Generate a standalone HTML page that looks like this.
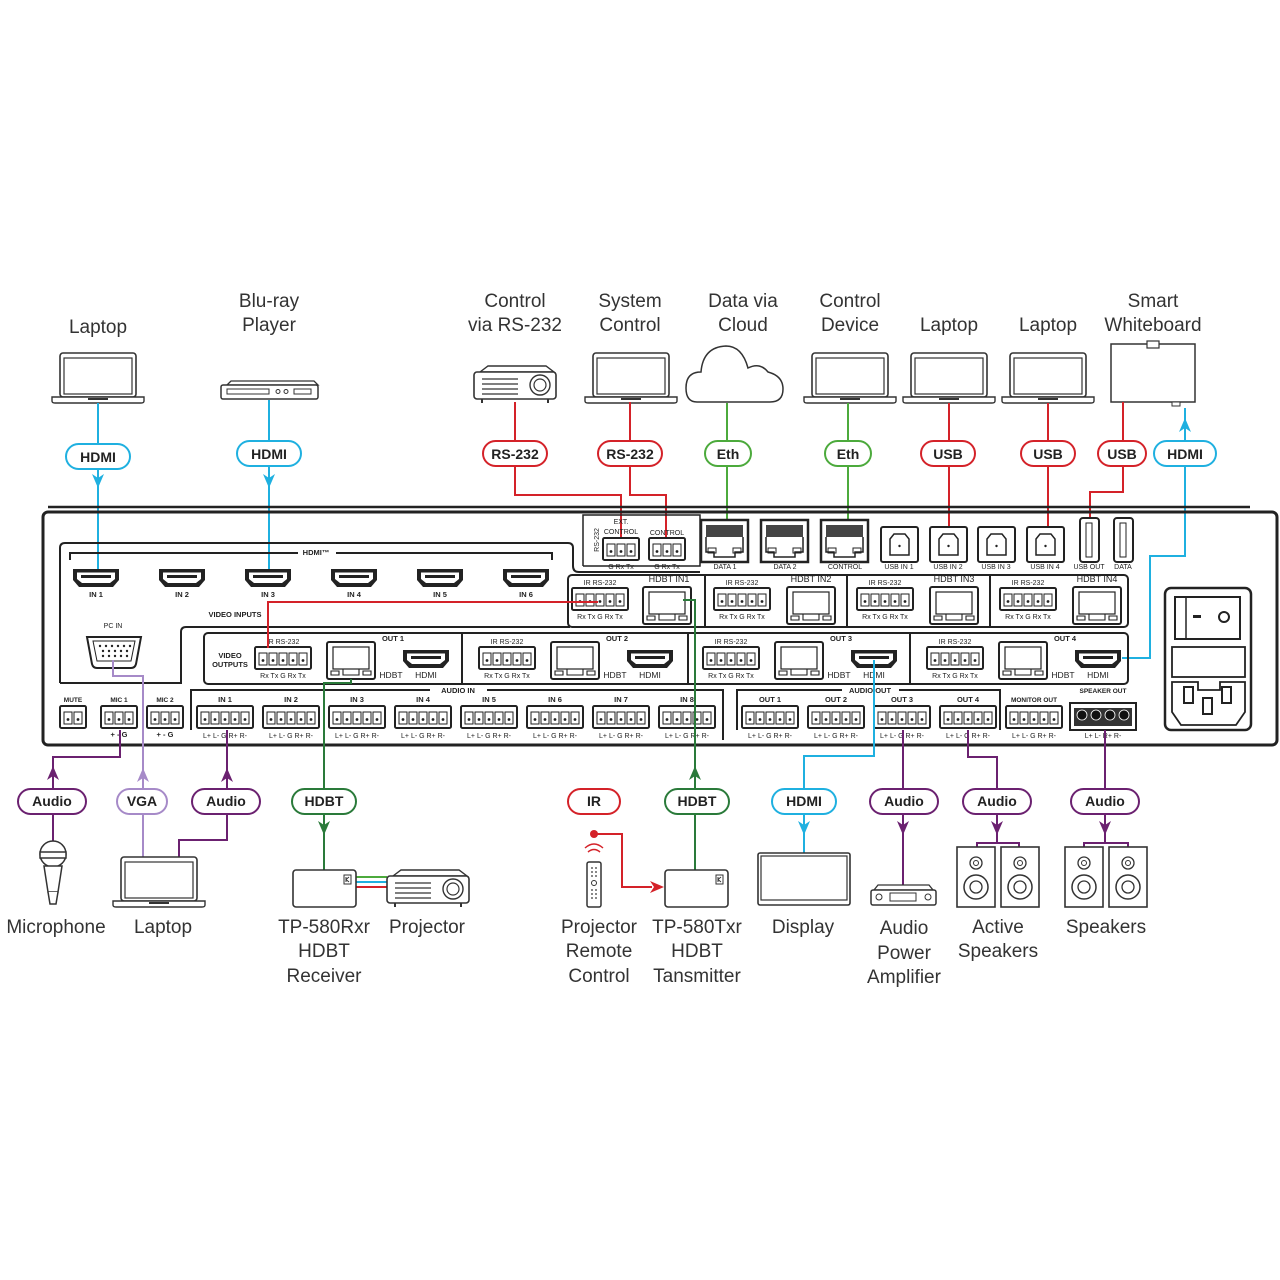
<!DOCTYPE html>
<html><head><meta charset="utf-8"><style>
html,body{margin:0;padding:0;background:#fff;}
svg{display:block;}
.lbl{font-family:"Liberation Sans",sans-serif;font-size:19px;fill:#333;text-anchor:middle;}
.pt{font-family:"Liberation Sans",sans-serif;font-size:14px;font-weight:bold;fill:#222;text-anchor:middle;}
.s{font-family:"Liberation Sans",sans-serif;font-size:7px;fill:#222;text-anchor:middle;}
.b{font-family:"Liberation Sans",sans-serif;font-size:7.5px;font-weight:bold;fill:#222;text-anchor:middle;}
.ln{fill:none;stroke-width:2;}
</style></head><body>
<svg width="1280" height="1280" viewBox="0 0 1280 1280" xmlns="http://www.w3.org/2000/svg">
<defs>
<g id="pin"><rect x="0" y="0" width="8" height="12" fill="#fff" stroke="#222" stroke-width="1"/><circle cx="4" cy="7.5" r="1.4" fill="#222"/></g>
<g id="t5"><rect x="0" y="0" width="56" height="22" rx="1.5" fill="#fff" stroke="#222" stroke-width="2"/><use href="#pin" x="4" y="6"/><use href="#pin" x="14" y="6"/><use href="#pin" x="24" y="6"/><use href="#pin" x="34" y="6"/><use href="#pin" x="44" y="6"/></g>
<g id="t3"><rect x="0" y="0" width="36" height="22" rx="1.5" fill="#fff" stroke="#222" stroke-width="2"/><use href="#pin" x="4" y="6"/><use href="#pin" x="14" y="6"/><use href="#pin" x="24" y="6"/></g>
<g id="t2"><rect x="0" y="0" width="26" height="22" rx="1.5" fill="#fff" stroke="#222" stroke-width="2"/><use href="#pin" x="4" y="6"/><use href="#pin" x="14" y="6"/></g>
<g id="hdmi"><path d="M0,0 H46 V11 L40,18 H6 L0,11Z" fill="#222"/><path d="M4,3.5 H42 V10 L37,14 H9 L4,10Z" fill="#fff"/><path d="M8,6 H38 V9 H8Z" fill="#222"/></g>
<g id="jack"><rect x="0" y="0" width="48" height="37" rx="2" fill="#fff" stroke="#222" stroke-width="2"/><rect x="6" y="5" width="36" height="22" fill="none" stroke="#222" stroke-width="1.2"/><path d="M4,29 H12 V33 H4Z M36,29 H44 V33 H36Z M16,27 H32 V33 H16Z" fill="none" stroke="#222" stroke-width="1.1"/></g>
<g id="eth"><rect x="0" y="0" width="47" height="42" fill="#fff" stroke="#222" stroke-width="2.5"/><rect x="5" y="5" width="37" height="12" fill="#444"/><path d="M5,17 V32 H13 V37 H34 V32 H42 V17" fill="none" stroke="#222" stroke-width="1.5"/><rect x="7" y="28" width="8" height="5" fill="none" stroke="#222"/><rect x="32" y="28" width="8" height="5" fill="none" stroke="#222"/></g>
<g id="usbb"><rect x="0" y="0" width="37" height="35" rx="2" fill="#fff" stroke="#222" stroke-width="2"/><path d="M9,12 L13,7 H24 L28,12 V28 H9Z" fill="none" stroke="#222" stroke-width="1.5"/><circle cx="18.5" cy="19" r="1.2" fill="#222"/></g>
<g id="laptop"><rect x="8" y="0" width="76" height="44" rx="3" fill="#fff" stroke="#333" stroke-width="1.6"/><rect x="12" y="5" width="68" height="36" fill="none" stroke="#333" stroke-width="1.2"/><path d="M0,44 H92 V48 Q92,50 89,50 H3 Q0,50 0,48Z" fill="#fff" stroke="#333" stroke-width="1.4"/><rect x="36" y="45" width="20" height="2" fill="#333"/></g>
<g id="proj"><path d="M6,6 L14,0 H72 L80,6 Z" fill="#fff" stroke="#333" stroke-width="1.4"/><rect x="0" y="6" width="82" height="27" rx="3" fill="#fff" stroke="#333" stroke-width="1.6"/><path d="M8,13 H44 M8,18 H44 M8,23 H44 M8,28 H44" stroke="#333" stroke-width="1.3"/><circle cx="66" cy="19" r="10" fill="none" stroke="#333" stroke-width="1.4"/><circle cx="66" cy="19" r="6" fill="none" stroke="#333" stroke-width="1.2"/><path d="M8,33 V37 M74,33 V37" stroke="#333" stroke-width="2"/></g>
<g id="spk"><rect x="0" y="0" width="38" height="60" fill="#fff" stroke="#333" stroke-width="1.6"/><circle cx="19" cy="16" r="6" fill="none" stroke="#333" stroke-width="1.3"/><circle cx="19" cy="16" r="2.5" fill="none" stroke="#333"/><circle cx="19" cy="40" r="12" fill="none" stroke="#333" stroke-width="1.5"/><circle cx="19" cy="40" r="6" fill="none" stroke="#333" stroke-width="1.3"/></g>
<g id="box"><rect x="0" y="0" width="63" height="37" rx="3" fill="#fff" stroke="#333" stroke-width="1.6"/><rect x="51" y="5" width="7" height="9" fill="#fff" stroke="#333"/><path d="M53,7 V12 M53,9.5 L56,7 M53,9.5 L56,12" stroke="#333" stroke-width="1"/></g>
</defs>

<!-- TOP LABELS -->
<text class="lbl" x="98" y="333">Laptop</text>
<text class="lbl" x="269" y="307">Blu-ray</text><text class="lbl" x="269" y="331">Player</text>
<text class="lbl" x="515" y="307">Control</text><text class="lbl" x="515" y="331">via RS-232</text>
<text class="lbl" x="630" y="307">System</text><text class="lbl" x="630" y="331">Control</text>
<text class="lbl" x="743" y="307">Data via</text><text class="lbl" x="743" y="331">Cloud</text>
<text class="lbl" x="850" y="307">Control</text><text class="lbl" x="850" y="331">Device</text>
<text class="lbl" x="949" y="331">Laptop</text>
<text class="lbl" x="1048" y="331">Laptop</text>
<text class="lbl" x="1153" y="307">Smart</text><text class="lbl" x="1153" y="331">Whiteboard</text>

<!-- TOP ICONS -->
<use href="#laptop" x="52" y="353"/>
<g><path d="M227,385 L231,381 H314 L318,385Z" fill="#fff" stroke="#333" stroke-width="1.3"/><rect x="221" y="385" width="97" height="14" rx="2" fill="#fff" stroke="#333" stroke-width="1.5"/><rect x="227" y="389" width="42" height="5" fill="none" stroke="#333"/><circle cx="278" cy="391.5" r="2" fill="none" stroke="#333"/><circle cx="286" cy="391.5" r="2" fill="none" stroke="#333"/><rect x="294" y="389" width="17" height="5" fill="none" stroke="#333"/></g>
<use href="#proj" x="474" y="366"/>
<use href="#laptop" x="585" y="353"/>
<path d="M697,402 Q686,402 686,388 Q686,372 701,372 Q703,347 726,346 Q742,346 748,368 Q760,362 768,372 Q783,376 783,389 Q783,402 770,402 Z" fill="#fff" stroke="#333" stroke-width="1.5"/>
<use href="#laptop" x="804" y="353"/>
<use href="#laptop" x="903" y="353"/>
<use href="#laptop" x="1002" y="353"/>
<rect x="1111" y="344" width="84" height="58" fill="#fff" stroke="#333" stroke-width="1.5"/><rect x="1147" y="341" width="12" height="7" fill="#fff" stroke="#333" stroke-width="1.2"/><rect x="1172" y="402" width="8" height="4" fill="#fff" stroke="#333"/>

<!-- TOP CONNECTORS -->
<path class="ln" stroke="#1fb0e0" d="M98,403 V570"/>
<path class="ln" stroke="#1fb0e0" d="M269,400 V570"/>
<path class="ln" stroke="#d42229" d="M515,402 V495 H621 V540"/>
<path class="ln" stroke="#d42229" d="M630,402 V495 H666 V540"/>
<path class="ln" stroke="#4caa3c" d="M727,403 V525"/>
<path class="ln" stroke="#4caa3c" d="M848,403 V525"/>
<path class="ln" stroke="#d42229" d="M949,403 V530"/>
<path class="ln" stroke="#d42229" d="M1048,403 V530"/>
<path class="ln" stroke="#d42229" d="M1123,402 V492 H1090 V518"/>
<path class="ln" stroke="#1fb0e0" d="M1122,658 H1150 V556 H1185 V408"/>
<polygon points="92,474 98,488 104,474 98,478" fill="#1fb0e0"/>
<polygon points="263,474 269,488 275,474 269,478" fill="#1fb0e0"/>
<polygon points="1179,432 1185,418 1191,432 1185,428" fill="#1fb0e0"/>

<!-- TOP PILLS -->
<g stroke-width="2" fill="#fff">
<rect x="66" y="444" width="64" height="25" rx="12.5" stroke="#1fb0e0"/>
<rect x="237" y="441" width="64" height="25" rx="12.5" stroke="#1fb0e0"/>
<rect x="483" y="441" width="64" height="25" rx="12.5" stroke="#d42229"/>
<rect x="598" y="441" width="64" height="25" rx="12.5" stroke="#d42229"/>
<rect x="705" y="441" width="46" height="25" rx="12.5" stroke="#4caa3c"/>
<rect x="825" y="441" width="46" height="25" rx="12.5" stroke="#4caa3c"/>
<rect x="921" y="441" width="54" height="25" rx="12.5" stroke="#d42229"/>
<rect x="1021" y="441" width="54" height="25" rx="12.5" stroke="#d42229"/>
<rect x="1098" y="441" width="48" height="25" rx="12.5" stroke="#d42229"/>
<rect x="1154" y="441" width="62" height="25" rx="12.5" stroke="#1fb0e0"/>
</g>
<text class="pt" x="98" y="462">HDMI</text>
<text class="pt" x="269" y="459">HDMI</text>
<text class="pt" x="515" y="459">RS-232</text>
<text class="pt" x="630" y="459">RS-232</text>
<text class="pt" x="728" y="459">Eth</text>
<text class="pt" x="848" y="459">Eth</text>
<text class="pt" x="948" y="459">USB</text>
<text class="pt" x="1048" y="459">USB</text>
<text class="pt" x="1122" y="459">USB</text>
<text class="pt" x="1185" y="459">HDMI</text>

<!-- PANEL -->
<path d="M48,507 H1250" stroke="#222" stroke-width="2.5"/>
<rect x="43" y="512" width="1234" height="233" rx="5" fill="none" stroke="#222" stroke-width="3"/>
<!-- RS232 box -->
<path d="M583,566 V515 H700 V566 H583" fill="none" stroke="#222" stroke-width="1.5"/>
<text class="s" transform="translate(599,540) rotate(-90)">RS-232</text>
<text class="s" x="621" y="524">EXT.</text><text class="s" x="621" y="534">CONTROL</text>
<text class="s" x="667" y="535">CONTROL</text>
<use href="#t3" x="603" y="538"/><use href="#t3" x="649" y="538"/>
<text class="s" x="621" y="569">G Rx Tx</text><text class="s" x="667" y="569">G Rx Tx</text>
<!-- data ports -->
<use href="#eth" x="701" y="520"/><use href="#eth" x="761" y="520"/><use href="#eth" x="821" y="520"/>
<text class="s" x="725" y="569">DATA 1</text><text class="s" x="785" y="569">DATA 2</text><text class="s" x="845" y="569">CONTROL</text>
<use href="#usbb" x="881" y="527"/><use href="#usbb" x="930" y="527"/><use href="#usbb" x="978" y="527"/><use href="#usbb" x="1027" y="527"/>
<text class="s" x="899" y="569">USB IN 1</text><text class="s" x="948" y="569">USB IN 2</text><text class="s" x="996" y="569">USB IN 3</text><text class="s" x="1045" y="569">USB IN 4</text>
<rect x="1080" y="518" width="19" height="44" rx="3" fill="#fff" stroke="#222" stroke-width="2"/><rect x="1086" y="523" width="6" height="34" fill="none" stroke="#222"/>
<rect x="1114" y="518" width="19" height="44" rx="3" fill="#fff" stroke="#222" stroke-width="2"/><rect x="1120" y="523" width="6" height="34" fill="none" stroke="#222"/>
<text class="s" x="1089" y="569">USB OUT</text><text class="s" x="1123" y="569">DATA</text>

<!-- video inputs bracket -->
<path d="M60,683 V548 Q60,543 65,543 H568 Q573,543 573,548 V566 Q573,572 579,572 H700" fill="none" stroke="#222" stroke-width="2"/>
<path d="M60,683 H181 V632 Q181,627 186,627 H570" fill="none" stroke="#222" stroke-width="2"/>
<!-- hdmi group -->
<path d="M70,560 V553 H298 M336,553 H552 V560" fill="none" stroke="#222" stroke-width="2"/>
<text class="b" x="316" y="555">HDMI™</text>
<use href="#hdmi" x="73" y="569"/><use href="#hdmi" x="159" y="569"/><use href="#hdmi" x="245" y="569"/><use href="#hdmi" x="331" y="569"/><use href="#hdmi" x="417" y="569"/><use href="#hdmi" x="503" y="569"/>
<text class="b" x="96" y="597">IN 1</text><text class="b" x="182" y="597">IN 2</text><text class="b" x="268" y="597">IN 3</text><text class="b" x="354" y="597">IN 4</text><text class="b" x="440" y="597">IN 5</text><text class="b" x="526" y="597">IN 6</text>
<text class="b" x="235" y="617">VIDEO INPUTS</text>
<!-- PC IN -->
<text class="s" x="113" y="628">PC IN</text>
<path d="M87,637 H141 L136,664 Q135,668 131,668 H97 Q93,668 92,664Z" fill="#fff" stroke="#222" stroke-width="2"/>
<path d="M93,641 H135 L131,661 H97Z" fill="none" stroke="#222" stroke-width="1"/>
<g fill="#222"><circle cx="100" cy="646" r="1.2"/><circle cx="106" cy="646" r="1.2"/><circle cx="112" cy="646" r="1.2"/><circle cx="118" cy="646" r="1.2"/><circle cx="124" cy="646" r="1.2"/><circle cx="130" cy="646" r="1.2"/><circle cx="103" cy="651" r="1.2"/><circle cx="109" cy="651" r="1.2"/><circle cx="115" cy="651" r="1.2"/><circle cx="121" cy="651" r="1.2"/><circle cx="127" cy="651" r="1.2"/><circle cx="103" cy="656" r="1.2"/><circle cx="109" cy="656" r="1.2"/><circle cx="115" cy="656" r="1.2"/><circle cx="121" cy="656" r="1.2"/><circle cx="127" cy="656" r="1.2"/></g>

<!-- HDBT in row -->
<rect x="568" y="575" width="560" height="52" rx="4" fill="none" stroke="#222" stroke-width="2"/>
<path d="M705,575 V627 M847,575 V627 M990,575 V627" stroke="#222" stroke-width="2"/>
<g>
<text class="s" x="600" y="585">IR RS-232</text><use href="#t5" x="572" y="588"/><text class="s" x="600" y="619">Rx Tx G Rx Tx</text>
<text class="s" x="669" y="582" style="font-size:9px">HDBT IN1</text><use href="#jack" x="643" y="587"/>
<text class="s" x="742" y="585">IR RS-232</text><use href="#t5" x="714" y="588"/><text class="s" x="742" y="619">Rx Tx G Rx Tx</text>
<text class="s" x="811" y="582" style="font-size:9px">HDBT IN2</text><use href="#jack" x="787" y="587"/>
<text class="s" x="885" y="585">IR RS-232</text><use href="#t5" x="857" y="588"/><text class="s" x="885" y="619">Rx Tx G Rx Tx</text>
<text class="s" x="954" y="582" style="font-size:9px">HDBT IN3</text><use href="#jack" x="930" y="587"/>
<text class="s" x="1028" y="585">IR RS-232</text><use href="#t5" x="1000" y="588"/><text class="s" x="1028" y="619">Rx Tx G Rx Tx</text>
<text class="s" x="1097" y="582" style="font-size:9px">HDBT IN4</text><use href="#jack" x="1073" y="587"/>
</g>

<!-- video outputs row -->
<rect x="204" y="633" width="924" height="51" rx="4" fill="none" stroke="#222" stroke-width="2"/>
<path d="M462,633 V684 M688,633 V684 M910,633 V684" stroke="#222" stroke-width="2"/>
<text class="b" x="230" y="658">VIDEO</text><text class="b" x="230" y="667">OUTPUTS</text>
<g id="outsec">
<text class="s" x="283" y="644">IR RS-232</text><use href="#t5" x="255" y="647"/><text class="s" x="283" y="678">Rx Tx G Rx Tx</text>
<use href="#jack" x="327" y="642"/>
<use href="#hdmi" x="403" y="650"/>
<text class="b" x="393" y="641">OUT 1</text>
<text class="s" x="391" y="678" style="font-size:8.5px">HDBT</text><text class="s" x="426" y="678" style="font-size:8.5px">HDMI</text>
</g>
<g transform="translate(224,0)">
<text class="s" x="283" y="644">IR RS-232</text><use href="#t5" x="255" y="647"/><text class="s" x="283" y="678">Rx Tx G Rx Tx</text>
<use href="#jack" x="327" y="642"/><use href="#hdmi" x="403" y="650"/>
<text class="b" x="393" y="641">OUT 2</text>
<text class="s" x="391" y="678" style="font-size:8.5px">HDBT</text><text class="s" x="426" y="678" style="font-size:8.5px">HDMI</text>
</g>
<g transform="translate(448,0)">
<text class="s" x="283" y="644">IR RS-232</text><use href="#t5" x="255" y="647"/><text class="s" x="283" y="678">Rx Tx G Rx Tx</text>
<use href="#jack" x="327" y="642"/><use href="#hdmi" x="403" y="650"/>
<text class="b" x="393" y="641">OUT 3</text>
<text class="s" x="391" y="678" style="font-size:8.5px">HDBT</text><text class="s" x="426" y="678" style="font-size:8.5px">HDMI</text>
</g>
<g transform="translate(672,0)">
<text class="s" x="283" y="644">IR RS-232</text><use href="#t5" x="255" y="647"/><text class="s" x="283" y="678">Rx Tx G Rx Tx</text>
<use href="#jack" x="327" y="642"/><use href="#hdmi" x="403" y="650"/>
<text class="b" x="393" y="641">OUT 4</text>
<text class="s" x="391" y="678" style="font-size:8.5px">HDBT</text><text class="s" x="426" y="678" style="font-size:8.5px">HDMI</text>
</g>

<!-- audio row -->
<text class="b" x="73" y="702" style="font-size:6.5px">MUTE</text><use href="#t2" x="60" y="706"/>
<text class="b" x="119" y="702" style="font-size:6.5px">MIC 1</text><use href="#t3" x="101" y="706"/><text class="b" x="119" y="737">+ - G</text>
<text class="b" x="165" y="702" style="font-size:6.5px">MIC 2</text><use href="#t3" x="147" y="706"/><text class="b" x="165" y="737">+ - G</text>
<path d="M191,730 V690 H430 M487,690 H723 V740" fill="none" stroke="#222" stroke-width="2"/>
<text class="b" x="458" y="693">AUDIO IN</text>
<g>
<use href="#t5" x="197" y="706"/><use href="#t5" x="263" y="706"/><use href="#t5" x="329" y="706"/><use href="#t5" x="395" y="706"/><use href="#t5" x="461" y="706"/><use href="#t5" x="527" y="706"/><use href="#t5" x="593" y="706"/><use href="#t5" x="659" y="706"/>
<text class="b" x="225" y="702">IN 1</text><text class="b" x="291" y="702">IN 2</text><text class="b" x="357" y="702">IN 3</text><text class="b" x="423" y="702">IN 4</text><text class="b" x="489" y="702">IN 5</text><text class="b" x="555" y="702">IN 6</text><text class="b" x="621" y="702">IN 7</text><text class="b" x="687" y="702">IN 8</text>
<text class="s" x="225" y="738">L+ L- G R+ R-</text><text class="s" x="291" y="738">L+ L- G R+ R-</text><text class="s" x="357" y="738">L+ L- G R+ R-</text><text class="s" x="423" y="738">L+ L- G R+ R-</text><text class="s" x="489" y="738">L+ L- G R+ R-</text><text class="s" x="555" y="738">L+ L- G R+ R-</text><text class="s" x="621" y="738">L+ L- G R+ R-</text><text class="s" x="687" y="738">L+ L- G R+ R-</text>
</g>
<path d="M737,730 V690 H842 M899,690 H1000 V730" fill="none" stroke="#222" stroke-width="2"/>
<text class="b" x="870" y="693">AUDIO OUT</text>
<use href="#t5" x="742" y="706"/><use href="#t5" x="808" y="706"/><use href="#t5" x="874" y="706"/><use href="#t5" x="940" y="706"/><use href="#t5" x="1006" y="706"/>
<text class="b" x="770" y="702">OUT 1</text><text class="b" x="836" y="702">OUT 2</text><text class="b" x="902" y="702">OUT 3</text><text class="b" x="968" y="702">OUT 4</text><text class="b" x="1034" y="702" style="font-size:6.5px">MONITOR OUT</text>
<text class="s" x="770" y="738">L+ L- G R+ R-</text><text class="s" x="836" y="738">L+ L- G R+ R-</text><text class="s" x="902" y="738">L+ L- G R+ R-</text><text class="s" x="968" y="738">L+ L- G R+ R-</text><text class="s" x="1034" y="738">L+ L- G R+ R-</text>
<text class="b" x="1103" y="693" style="font-size:6.5px">SPEAKER OUT</text>
<rect x="1070" y="703" width="66" height="27" fill="#fff" stroke="#222" stroke-width="2"/>
<rect x="1074" y="708" width="58" height="18" fill="#333"/>
<g fill="#111" stroke="#fff" stroke-width="0.8"><circle cx="1082" cy="715" r="5"/><circle cx="1096" cy="715" r="5"/><circle cx="1110" cy="715" r="5"/><circle cx="1124" cy="715" r="5"/></g>
<text class="s" x="1103" y="738">L+  L-  R+  R-</text>
<!-- power -->
<rect x="1165" y="588" width="86" height="142" rx="6" fill="#fff" stroke="#222" stroke-width="2.5"/>
<rect x="1175" y="597" width="65" height="42" fill="#fff" stroke="#222" stroke-width="2"/>
<path d="M1186,597 V639" stroke="#222" stroke-width="1.5"/>
<rect x="1193" y="615" width="8" height="3" fill="#222"/><circle cx="1224" cy="617" r="5" fill="#fff" stroke="#222" stroke-width="2"/>
<rect x="1172" y="647" width="73" height="30" fill="#fff" stroke="#222" stroke-width="1.8"/>
<path d="M1172,682 H1198 V690 H1220 V682 H1245 V712 L1236,725 H1181 L1172,712Z" fill="#fff" stroke="#222" stroke-width="1.8"/>
<rect x="1184" y="687" width="9" height="16" fill="none" stroke="#222" stroke-width="2"/><rect x="1222" y="687" width="9" height="16" fill="none" stroke="#222" stroke-width="2"/><rect x="1203" y="698" width="9" height="16" fill="none" stroke="#222" stroke-width="2"/>

<!-- INTERNAL / BOTTOM CONNECTORS -->
<path class="ln" stroke="#d42229" d="M598,602 H268 V648"/>
<path class="ln" stroke="#2a7a3a" d="M683,600 H695 V870"/>
<polygon points="689,780 695,766 701,780 695,776" fill="#2a7a3a"/>
<path class="ln" stroke="#2a7a3a" d="M351,679 V683 H324 V870"/>
<polygon points="318,821 324,835 330,821 324,825" fill="#2a7a3a"/>
<path class="ln" stroke="#1fb0e0" d="M874,660 V756 H804 V853"/>
<polygon points="798,821 804,835 810,821 804,825" fill="#1fb0e0"/>
<path class="ln" stroke="#6b2170" d="M120,730 V757 H53 V842"/>
<polygon points="47,780 53,766 59,780 53,776" fill="#6b2170"/>
<path class="ln" stroke="#a68ac8" d="M113,660 V676 H143 V857"/>
<polygon points="137,782 143,768 149,782 143,778" fill="#a68ac8"/>
<path class="ln" stroke="#6b2170" d="M227,730 V840 H179 V857"/>
<polygon points="221,782 227,768 233,782 227,778" fill="#6b2170"/>
<path class="ln" stroke="#6b2170" d="M903,730 V888"/>
<polygon points="897,821 903,835 909,821 903,825" fill="#6b2170"/>
<path class="ln" stroke="#6b2170" d="M968,730 V757 H997 V843 M977,847 V843 H1019 V847"/>
<polygon points="991,821 997,835 1003,821 997,825" fill="#6b2170"/>
<path class="ln" stroke="#6b2170" d="M1105,730 V843 M1084,847 V843 H1128 V847"/>
<polygon points="1099,821 1105,835 1111,821 1105,825" fill="#6b2170"/>
<circle cx="594" cy="834" r="4" fill="#d42229"/>
<path class="ln" stroke="#d42229" d="M594,834 H622 V887 H652"/>
<polygon points="650,881 664,887 650,893 654,887" fill="#d42229"/>
<path d="M356,877 H387" stroke="#4caa3c" stroke-width="2"/><path d="M356,882 H387" stroke="#1fb0e0" stroke-width="2"/><path d="M356,887 H387" stroke="#d42229" stroke-width="2"/>

<!-- BOTTOM PILLS -->
<g stroke-width="2" fill="#fff">
<rect x="18" y="789" width="68" height="25" rx="12.5" stroke="#6b2170"/>
<rect x="117" y="789" width="50" height="25" rx="12.5" stroke="#a68ac8"/>
<rect x="192" y="789" width="68" height="25" rx="12.5" stroke="#6b2170"/>
<rect x="292" y="789" width="64" height="25" rx="12.5" stroke="#2a7a3a"/>
<rect x="568" y="789" width="52" height="25" rx="12.5" stroke="#d42229"/>
<rect x="665" y="789" width="64" height="25" rx="12.5" stroke="#2a7a3a"/>
<rect x="772" y="789" width="64" height="25" rx="12.5" stroke="#1fb0e0"/>
<rect x="870" y="789" width="68" height="25" rx="12.5" stroke="#6b2170"/>
<rect x="963" y="789" width="68" height="25" rx="12.5" stroke="#6b2170"/>
<rect x="1071" y="789" width="68" height="25" rx="12.5" stroke="#6b2170"/>
</g>
<text class="pt" x="52" y="806">Audio</text>
<text class="pt" x="142" y="806">VGA</text>
<text class="pt" x="226" y="806">Audio</text>
<text class="pt" x="324" y="806">HDBT</text>
<text class="pt" x="594" y="806">IR</text>
<text class="pt" x="697" y="806">HDBT</text>
<text class="pt" x="804" y="806">HDMI</text>
<text class="pt" x="904" y="806">Audio</text>
<text class="pt" x="997" y="806">Audio</text>
<text class="pt" x="1105" y="806">Audio</text>

<!-- BOTTOM ICONS -->
<g stroke="#333" stroke-width="1.5" fill="#fff">
<ellipse cx="53" cy="854" rx="13" ry="13"/><path d="M40,852 H66 V858 H40Z"/>
<path d="M44,866 L48,892 H58 L62,866Z"/><path d="M48,892 L50,904 H56 L58,892"/>
</g>
<use href="#laptop" x="113" y="857"/>
<use href="#box" x="293" y="870"/>
<use href="#proj" x="387" y="870"/>
<g stroke="#d42229" stroke-width="1.5" fill="none"><path d="M588,852 Q594,847 600,852"/><path d="M585,848 Q594,840 603,848"/></g>
<rect x="587" y="862" width="14" height="45" rx="2" fill="#fff" stroke="#333" stroke-width="1.5"/>
<g fill="#333"><circle cx="592" cy="868" r="0.9"/><circle cx="596" cy="868" r="0.9"/><circle cx="592" cy="872" r="0.9"/><circle cx="596" cy="872" r="0.9"/><circle cx="592" cy="876" r="0.9"/><circle cx="596" cy="876" r="0.9"/><circle cx="592" cy="890" r="0.9"/><circle cx="596" cy="890" r="0.9"/><circle cx="592" cy="894" r="0.9"/><circle cx="596" cy="894" r="0.9"/><circle cx="592" cy="898" r="0.9"/><circle cx="596" cy="898" r="0.9"/></g>
<circle cx="594" cy="883" r="2.5" fill="none" stroke="#333"/>
<use href="#box" x="665" y="870"/>
<rect x="758" y="853" width="92" height="52" rx="2" fill="#fff" stroke="#333" stroke-width="1.6"/><rect x="761" y="856" width="86" height="44" fill="none" stroke="#333" stroke-width="1.2"/>
<path d="M874,890 L878,885 H929 L933,890Z" fill="#fff" stroke="#333" stroke-width="1.3"/>
<rect x="871" y="890" width="65" height="15" rx="2" fill="#fff" stroke="#333" stroke-width="1.5"/>
<circle cx="879" cy="897" r="3" fill="none" stroke="#333"/><circle cx="928" cy="897" r="3" fill="none" stroke="#333"/><rect x="890" y="893" width="26" height="8" fill="none" stroke="#333"/>
<use href="#spk" x="957" y="847"/><use href="#spk" x="1001" y="847"/>
<use href="#spk" x="1065" y="847"/><use href="#spk" x="1109" y="847"/>

<!-- BOTTOM LABELS -->
<text class="lbl" x="56" y="933">Microphone</text>
<text class="lbl" x="163" y="933">Laptop</text>
<text class="lbl" x="324" y="933">TP-580Rxr</text><text class="lbl" x="324" y="957">HDBT</text><text class="lbl" x="324" y="982">Receiver</text>
<text class="lbl" x="427" y="933">Projector</text>
<text class="lbl" x="599" y="933">Projector</text><text class="lbl" x="599" y="957">Remote</text><text class="lbl" x="599" y="982">Control</text>
<text class="lbl" x="697" y="933">TP-580Txr</text><text class="lbl" x="697" y="957">HDBT</text><text class="lbl" x="697" y="982">Tansmitter</text>
<text class="lbl" x="803" y="933">Display</text>
<text class="lbl" x="904" y="934">Audio</text><text class="lbl" x="904" y="959">Power</text><text class="lbl" x="904" y="983">Amplifier</text>
<text class="lbl" x="998" y="933">Active</text><text class="lbl" x="998" y="957">Speakers</text>
<text class="lbl" x="1106" y="933">Speakers</text>
</svg>
</body></html>
